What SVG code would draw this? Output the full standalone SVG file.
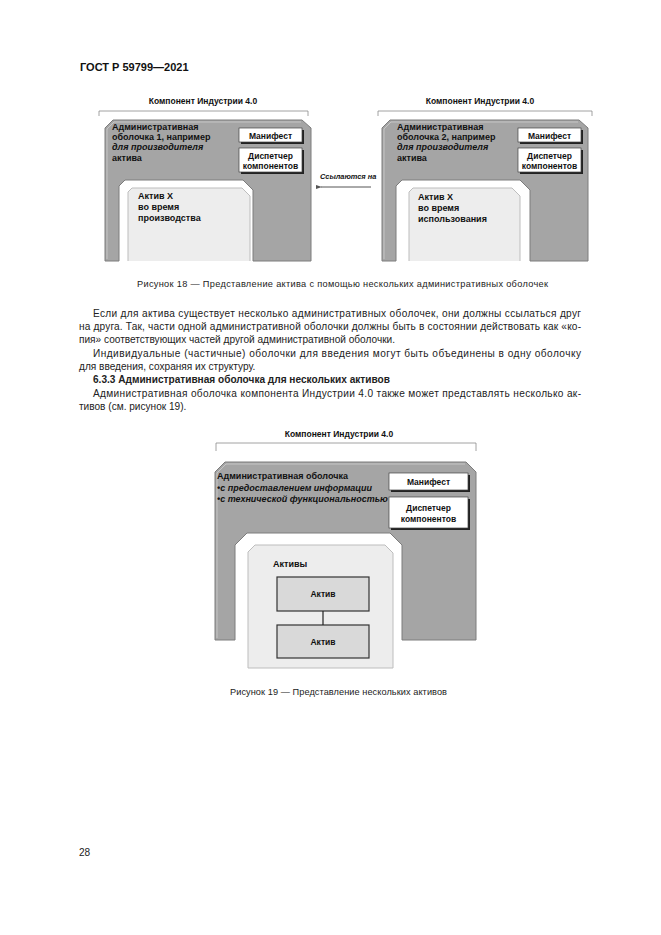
<svg xmlns="http://www.w3.org/2000/svg" width="661" height="935" viewBox="0 0 661 935">
<style>
text{font-family:"Liberation Sans",Arial,sans-serif;fill:#111}
.hd{font-size:11px;font-weight:bold}
.body{font-size:10.1px;fill:#222}
.cap{font-size:9.2px;fill:#222}
.ttl{font-size:8.5px;font-weight:bold;text-anchor:middle}
.g{font-size:9px;font-weight:bold}
.gi{font-size:9px;font-weight:bold;font-style:italic}
.bx{font-size:8.5px;font-weight:bold;text-anchor:middle}
.br{fill:none;stroke:#8a8a8a;stroke-width:0.8}
.shell{fill:#a5a5a5;stroke:#7c7c7c;stroke-width:1}
.hl{fill:none;stroke:#c6c6c6;stroke-width:1}
.asset{fill:#ededed;stroke:#bdbdbd;stroke-width:1}
.wb{fill:#fff;stroke:#444;stroke-width:0.7}
.sh{fill:#222}
.ab{fill:#d9d9d9;stroke:#333;stroke-width:1.2}
.con{fill:none;stroke:#555;stroke-width:1}
</style>
<defs>
<marker id="ah" markerWidth="6" markerHeight="6" refX="1" refY="3" orient="auto" markerUnits="userSpaceOnUse">
<path d="M6,1 L0,3 L6,5 Z" fill="#555"/>
</marker>
</defs>

<text class="hd" x="80" y="71">ГОСТ Р 59799—2021</text>

<!-- Figure 18 left -->
<g id="fig18-left">
<text class="ttl" x="203" y="104">Компонент Индустрии 4.0</text>
<path class="br" d="M99,116 V111 H308 V116"/>
<path class="shell" d="M105,128 L113,120 L302,120 L311,128 L311,261 L253,261 L253,190 L243,180 L125,180 L119,186 L119,261 L105,261 Z"/>
<path class="hl" d="M107,259 V129 L114,122 H301"/>
<path class="asset" d="M128,261 L128,192 L132,188 L242,188 L250,196 L250,261"/>
<text class="g" x="112" y="130">Административная</text>
<text class="g" x="112" y="140">оболочка 1, например</text>
<text class="gi" x="112" y="150">для производителя</text>
<text class="g" x="112" y="161">актива</text>
<text class="g" x="138" y="199">Актив Х</text>
<text class="g" x="138" y="210">во время</text>
<text class="g" x="138" y="221">производства</text>
</g>
<g id="fig18-left-manifest">
<rect class="sh" x="241" y="130" width="63" height="14"/>
<rect class="wb" x="239" y="128" width="63" height="14"/>
<text class="bx" x="270.5" y="138.5">Манифест</text>
</g>
<g id="fig18-left-dispatcher">
<rect class="sh" x="241" y="150" width="63" height="24"/>
<rect class="wb" x="239" y="148" width="63" height="24"/>
<text class="bx" x="270.5" y="158.5">Диспетчер</text>
<text class="bx" x="270.5" y="168.5">компонентов</text>
</g>

<!-- Figure 18 right -->
<g id="fig18-right">
<text class="ttl" x="480" y="104">Компонент Индустрии 4.0</text>
<path class="br" d="M378,116 V111 H592 V116"/>
<path class="shell" d="M382,128 L390,120 L579,120 L588,128 L588,261 L530,261 L530,190 L520,180 L402,180 L396,186 L396,261 L382,261 Z"/>
<path class="hl" d="M384,259 V129 L391,122 H578"/>
<path class="asset" d="M409,261 L409,192 L413,188 L512,188 L520,196 L520,261"/>
<text class="g" x="397" y="130">Административная</text>
<text class="g" x="397" y="140">оболочка 2, например</text>
<text class="gi" x="397" y="150">для производителя</text>
<text class="g" x="397" y="161">актива</text>
<text class="g" x="418" y="200">Актив Х</text>
<text class="g" x="418" y="211">во время</text>
<text class="g" x="418" y="222">использования</text>
</g>
<g id="fig18-right-manifest">
<rect class="sh" x="520" y="130" width="63" height="14"/>
<rect class="wb" x="518" y="128" width="63" height="14"/>
<text class="bx" x="549.5" y="138.5">Манифест</text>
</g>
<g id="fig18-right-dispatcher">
<rect class="sh" x="520" y="150" width="63" height="24"/>
<rect class="wb" x="518" y="148" width="63" height="24"/>
<text class="bx" x="549.5" y="158.5">Диспетчер</text>
<text class="bx" x="549.5" y="168.5">компонентов</text>
</g>

<text x="320" y="179" style="font-size:7.4px;font-weight:bold;font-style:italic">Ссылаются на</text>

<text class="cap" x="137" y="287" textLength="411" lengthAdjust="spacing">Рисунок 18 — Представление актива с помощью нескольких административных оболочек</text>

<g id="body-text">
<text class="body" x="93" y="317" textLength="488" lengthAdjust="spacing">Если для актива существует несколько административных оболочек, они должны ссылаться друг</text>
<text class="body" x="79" y="330" textLength="502" lengthAdjust="spacing">на друга. Так, части одной административной оболочки должны быть в состоянии действовать как «ко-</text>
<text class="body" x="79" y="343">пия» соответствующих частей другой административной оболочки.</text>
<text class="body" x="93" y="357" textLength="488" lengthAdjust="spacing">Индивидуальные (частичные) оболочки для введения могут быть объединены в одну оболочку</text>
<text class="body" x="79" y="370">для введения, сохраняя их структуру.</text>
<text class="body" x="93" y="383" style="font-weight:bold">6.3.3 Административная оболочка для нескольких активов</text>
<text class="body" x="93" y="397" textLength="488" lengthAdjust="spacing">Административная оболочка компонента Индустрии 4.0 также может представлять несколько ак-</text>
<text class="body" x="79" y="410">тивов (см. рисунок 19).</text>
</g>

<!-- Figure 19 -->
<g id="fig19-shell">
<text class="ttl" x="339" y="437">Компонент Индустрии 4.0</text>
<path class="br" d="M216,451 V443 H476 V451"/>
<path class="shell" d="M215,472 L225,462 L466,462 L476,472 L476,640 L402,640 L402,545 L390,533 L247,533 L235,545 L235,640 L215,640 Z"/>
<path class="hl" d="M217,638 V473 L226,464 H465"/>
<text class="g" x="217" y="479">Административная оболочка</text>
<text class="gi" x="217" y="491">•с предоставлением информации</text>
<text class="gi" x="217" y="502">•с технической функциональностью</text>
</g>
<g id="fig19-manifest">
<rect class="sh" x="391" y="475" width="79" height="17"/>
<rect class="wb" x="389" y="473" width="79" height="17"/>
<text class="bx" x="428.5" y="485">Манифест</text>
</g>
<g id="fig19-dispatcher">
<rect class="sh" x="391" y="499" width="79" height="31"/>
<rect class="wb" x="389" y="497" width="79" height="31"/>
<text class="bx" x="428.5" y="511">Диспетчер</text>
<text class="bx" x="428.5" y="522">компонентов</text>
</g>
<g id="fig19-assets">
<path class="asset" d="M248,668 L248,552 L255,545 L385,545 L393,553 L393,668 Z"/>
<text class="g" x="273" y="567">Активы</text>
</g>
<g id="fig19-asset1">
<rect class="ab" x="277" y="577" width="92" height="34"/>
<text class="bx" x="323" y="597">Актив</text>
</g>
<g id="fig19-asset2">
<rect class="ab" x="277" y="625" width="92" height="33"/>
<text class="bx" x="323" y="645">Актив</text>
</g>

<g id="connectors">
<line class="con" x1="371" y1="187" x2="321" y2="187" marker-end="url(#ah)"/>
<line x1="323" y1="611" x2="323" y2="625" stroke="#222" stroke-width="1.2"/>
</g>

<text class="cap" x="230" y="695" textLength="217" lengthAdjust="spacing">Рисунок 19 — Представление нескольких активов</text>

<text class="body" x="79" y="856">28</text>
</svg>
